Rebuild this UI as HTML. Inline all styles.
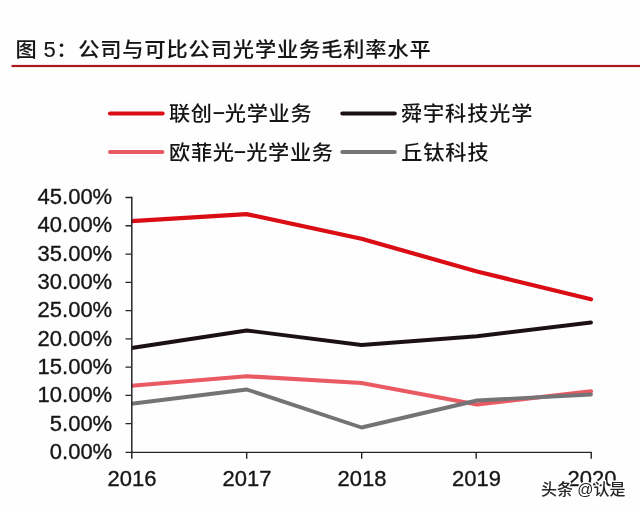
<!DOCTYPE html>
<html lang="zh-CN">
<head>
<meta charset="utf-8">
<title>图 5：公司与可比公司光学业务毛利率水平</title>
<style>
html,body{margin:0;padding:0;background:#fefefe;}
body{width:640px;height:512px;overflow:hidden;position:relative;}
svg{position:absolute;left:0;top:0;display:block;will-change:transform;}
.t{font-family:"Liberation Sans","Noto Sans CJK SC",sans-serif;fill:#151515;font-weight:500;stroke:#151515;stroke-width:0.1px;}
.c{font-family:"Liberation Sans","Noto Sans CJK SC",sans-serif;fill:#151515;font-weight:500;}
.n{font-family:"Liberation Sans",sans-serif;fill:#161616;stroke:#161616;stroke-width:0.35px;}
.w{font-family:"Liberation Sans","Noto Sans CJK SC",sans-serif;fill:#262626;font-weight:500;stroke:#fff;stroke-width:2.8px;paint-order:stroke;stroke-linejoin:round;}
</style>
</head>
<body>
<svg width="640" height="512" viewBox="0 0 640 512">
  <rect x="0" y="0" width="640" height="512" fill="#fefefe"/>

  <!-- title -->
  <text class="t" transform="translate(15.4 56.5) scale(1.06 1)" font-size="20" letter-spacing="0.849">图</text>
  <text class="t" x="49.6" y="56.5" font-size="22" text-anchor="middle">5</text>
  <text class="t" transform="translate(56.2 56.5) scale(1.06 1)" font-size="20" letter-spacing="0.849">：</text>
  <text class="t" transform="translate(78.2 56.5) scale(1.06 1)" font-size="20" letter-spacing="0.849">公司与可比公司光学业务毛利率水平</text>
  <rect x="11.5" y="64.9" width="628.5" height="2.2" fill="#a8181e"/>
  <!-- legend -->
  <g fill="none" stroke-width="4.2" stroke-linecap="round">
    <line x1="110" y1="113.5" x2="162.6" y2="113.5" stroke="#da0c14"/>
    <line x1="342.4" y1="113.5" x2="394.7" y2="113.5" stroke="#1c1112"/>
    <line x1="110" y1="152" x2="162.4" y2="152" stroke="#e95a63"/>
    <line x1="342.4" y1="152" x2="394.7" y2="152" stroke="#747476"/>
  </g>
  <text class="c" transform="translate(168.95 121.2) scale(1.06 1)" font-size="20" letter-spacing="0.66">联创</text>
  <text class="c" x="0" y="0" font-size="20" text-anchor="middle" transform="translate(218.8 118.8) scale(2.15 1.15)">-</text>
  <text class="c" transform="translate(224.85 121.2) scale(1.06 1)" font-size="20" letter-spacing="0.66">光学业务</text>
  <text class="c" transform="translate(400.9 121.2) scale(1.06 1)" font-size="20" letter-spacing="0.849">舜宇科技光学</text>
  <text class="c" transform="translate(169.05 159.9) scale(1.06 1)" font-size="20" letter-spacing="0.66">欧菲光</text>
  <text class="c" x="0" y="0" font-size="20" text-anchor="middle" transform="translate(240.0 157.5) scale(2.15 1.15)">-</text>
  <text class="c" transform="translate(246.15 159.9) scale(1.06 1)" font-size="20" letter-spacing="0.66">光学业务</text>
  <text class="c" transform="translate(401.2 159.9) scale(1.06 1)" font-size="20" letter-spacing="0.849">丘钛科技</text>
  <!-- series -->
  <clipPath id="pc"><rect x="131.4" y="180" width="480" height="275"/></clipPath>
  <g fill="none" stroke-width="4.2" stroke-linecap="round" stroke-linejoin="round" clip-path="url(#pc)">
    <polyline stroke="#da0c14" points="131.5,221.1 246.5,214.1 361.5,238.75 477,271.5 591,299.25"/>
    <polyline stroke="#1c1112" stroke-width="3.8" points="131.5,348 246.75,330.5 361.5,345 477,336.25 591,322.5"/>
    <polyline stroke="#e95a63" points="131.5,385.75 246.75,376.25 361.5,383 477,404.5 591,391.25"/>
    <polyline stroke="#747476" stroke-width="3.9" points="131.5,403.75 246.75,389.5 361.5,427.5 477,400.5 591,394.5"/>
  </g>
  <!-- end series -->
  <!-- axes -->
  <g stroke="#262626" fill="none">
    <path stroke-width="1.5" d="M131.8 196.83V458.8"/>
    <path stroke-width="1.3" d="M125.5 452.35H591.9"/>
    <path stroke-width="1.3" d="M125.5 423.72H131.8 M125.5 395.44H131.8 M125.5 367.16H131.8 M125.5 338.88H131.8 M125.5 310.60H131.8 M125.5 282.32H131.8 M125.5 254.04H131.8 M125.5 225.76H131.8 M125.5 197.48H131.8"/>
    <path stroke-width="1.4" d="M246.7 452.35V458.8M361.7 452.35V458.8M476.2 452.35V458.8M591.25 452.35V458.8"/>
  </g>
  <!-- y labels -->
  <text class="n" x="112.2" y="459.15" font-size="22" text-anchor="end">0.00%</text>
  <text class="n" x="112.2" y="430.81" font-size="22" text-anchor="end">5.00%</text>
  <text class="n" x="112.2" y="402.47" font-size="22" text-anchor="end">10.00%</text>
  <text class="n" x="112.2" y="374.13" font-size="22" text-anchor="end">15.00%</text>
  <text class="n" x="112.2" y="345.79" font-size="22" text-anchor="end">20.00%</text>
  <text class="n" x="112.2" y="317.45" font-size="22" text-anchor="end">25.00%</text>
  <text class="n" x="112.2" y="289.11" font-size="22" text-anchor="end">30.00%</text>
  <text class="n" x="112.2" y="260.77" font-size="22" text-anchor="end">35.00%</text>
  <text class="n" x="112.2" y="232.43" font-size="22" text-anchor="end">40.00%</text>
  <text class="n" x="112.2" y="204.09" font-size="22" text-anchor="end">45.00%</text>
  <!-- x labels -->
  <text class="n" x="132.0" y="486.4" font-size="22" text-anchor="middle">2016</text>
  <text class="n" x="247.0" y="486.4" font-size="22" text-anchor="middle">2017</text>
  <text class="n" x="362.0" y="486.4" font-size="22" text-anchor="middle">2018</text>
  <text class="n" x="476.5" y="486.4" font-size="22" text-anchor="middle">2019</text>
  <text class="n" x="592.0" y="486.4" font-size="22" text-anchor="middle">2020</text>
  <!-- watermark -->
  <text class="w" x="541" y="494.9" font-size="16" textLength="84.5" lengthAdjust="spacingAndGlyphs">头条 @认是</text>
</svg>
</body>
</html>
